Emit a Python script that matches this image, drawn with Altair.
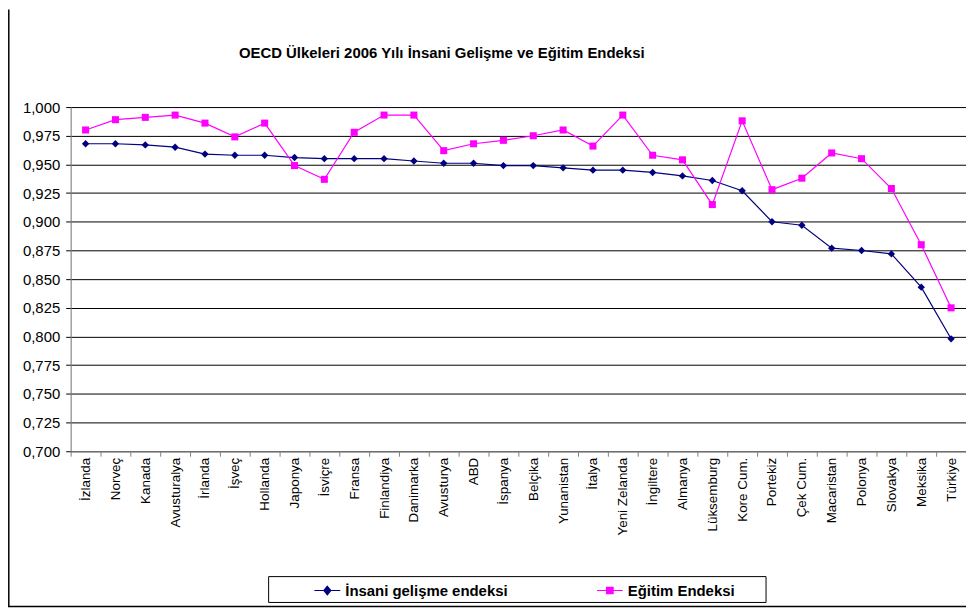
import altair as alt
import pandas as pd

countries = ["İzlanda", "Norveç", "Kanada", "Avusturalya", "İrlanda", "İşveç", "Hollanda",
             "Japonya", "İsviçre", "Fransa", "Finlandiya", "Danimarka", "Avusturya", "ABD",
             "İspanya", "Belçika", "Yunanistan", "İtalya", "Yeni Zelanda", "İngiltere",
             "Almanya", "Lüksemburg", "Kore Cum.", "Portekiz", "Çek Cum.", "Macaristan",
             "Polonya", "Slovakya", "Meksika", "Türkiye"]
hdi = [0.968, 0.968, 0.967, 0.965, 0.959, 0.958, 0.958, 0.956, 0.955, 0.955, 0.955, 0.953,
       0.951, 0.951, 0.949, 0.949, 0.947, 0.945, 0.945, 0.943, 0.940, 0.936, 0.927, 0.900,
       0.897, 0.877, 0.875, 0.872, 0.843, 0.798]
edu = [0.980, 0.989, 0.991, 0.993, 0.986, 0.974, 0.986, 0.949, 0.937, 0.978, 0.993, 0.993,
       0.962, 0.968, 0.971, 0.975, 0.980, 0.966, 0.993, 0.958, 0.954, 0.915, 0.988, 0.928,
       0.938, 0.960, 0.955, 0.929, 0.880, 0.825]
series = ["İnsani gelişme endeksi", "Eğitim Endeksi"]
colors = ["#000080", "#FF00FF"]
y_ticks = [round(0.7 + 0.025 * i, 3) for i in range(13)]

FONT = "Liberation Sans"

rows = []
for i, c in enumerate(countries):
    rows.append({"ulke": c, "seri": series[0], "deger": hdi[i], "ord": i})
    rows.append({"ulke": c, "seri": series[1], "deger": edu[i], "ord": i})
df = pd.DataFrame(rows)

W, H = 900, 346

x_enc = alt.X("ulke:N", sort=countries, title=None,
              scale=alt.Scale(type="band", paddingInner=0, paddingOuter=0),
              axis=alt.Axis(labelAngle=-90, labelFontSize=13.5, labelColor="#000",
                            labelPadding=1, tickBand="extent", tickSize=5,
                            tickColor="#808080", domainColor="#808080", grid=False,
                            labelFont=FONT))
y_enc = alt.Y("deger:Q", title=None,
              scale=alt.Scale(domain=[0.7, 1.0], nice=False, zero=False),
              axis=alt.Axis(values=y_ticks, labelExpr="replace(format(datum.value, '.3f'), '.', ',')",
                            labelFontSize=15, labelColor="#000", labelPadding=6, tickSize=5,
                            tickColor="#000", domainColor="#808080", grid=True,
                            gridColor="#000", gridWidth=1, labelFont=FONT))
color_scale = alt.Scale(domain=series, range=colors)

diamond_sym = "M-1,0H1M0,-0.33L0.27,0L0,0.33L-0.27,0Z"
square_sym = "M-1,0H1M-0.25,-0.25H0.25V0.25H-0.25Z"
is_first = "datum.value === '" + series[0] + "'"
sym_expr = is_first + " ? '" + diamond_sym + "' : '" + square_sym + "'"
col_expr = is_first + " ? '" + colors[0] + "' : '" + colors[1] + "'"

legend = alt.Legend(orient="none", legendX=244, legendY=472, zindex=5,
                    direction="horizontal", title=None,
                    labelFont=FONT, labelFontSize=15, labelLimit=400,
                    labelFontWeight="bold", labelColor="#000",
                    symbolSize=676, labelOffset=4, columnPadding=86,
                    padding=0,
                    symbolType={"expr": sym_expr},
                    symbolStrokeColor={"expr": col_expr},
                    symbolFillColor={"expr": col_expr},
                    symbolStrokeWidth=1.2,
                    symbolOpacity=1)

lines = alt.Chart(df).mark_line(strokeWidth=1.2).encode(
    x=x_enc, y=y_enc,
    color=alt.Color("seri:N", scale=color_scale, title=None, legend=legend),
    detail="seri:N",
    order="ord:Q",
)

pts_hdi = alt.Chart(df).transform_filter(alt.datum.seri == series[0]).mark_point(
    filled=True, opacity=1, size=55, shape="diamond").encode(
    x=x_enc, y=y_enc,
    color=alt.Color("seri:N", scale=color_scale, legend=None),
)
pts_edu = alt.Chart(df).transform_filter(alt.datum.seri == series[1]).mark_point(
    filled=True, opacity=1, size=50, shape="square").encode(
    x=x_enc, y=y_enc,
    color=alt.Color("seri:N", scale=color_scale, legend=None),
)

legend_box = alt.Chart(pd.DataFrame({"k": [0]})).mark_rect(
    fill="white", stroke="#000", strokeWidth=1).encode(
    x=alt.value(199), x2=alt.value(699), y=alt.value(472), y2=alt.value(498))

frame_left = alt.Chart(pd.DataFrame({"k": [0]})).mark_rule(color="#000", strokeWidth=1.5).encode(
    x=alt.value(-62.2), y=alt.value(-98), y2=alt.value(502))
frame_bottom = alt.Chart(pd.DataFrame({"k": [0]})).mark_rule(color="#000", strokeWidth=1.5).encode(
    x=alt.value(-63), x2=alt.value(W), y=alt.value(502))

chart = alt.layer(legend_box, frame_left, frame_bottom, lines, pts_hdi, pts_edu).resolve_legend(
    color="independent"
).properties(
    width=W, height=H,
    title=alt.TitleParams("OECD Ülkeleri 2006 Yılı İnsani Gelişme ve Eğitim Endeksi",
                          font=FONT, fontSize=15, fontWeight="bold", color="#000",
                          anchor="middle", dx=-77, offset=-52, frame="group"),
    autosize=alt.AutoSizeParams(type="none"),
    padding={"left": 63, "top": 98, "right": 0, "bottom": 157},
).configure_view(stroke=None).configure(font=FONT, background="white")

chart.save("out.html", embed_options={"renderer": "svg", "actions": False})
